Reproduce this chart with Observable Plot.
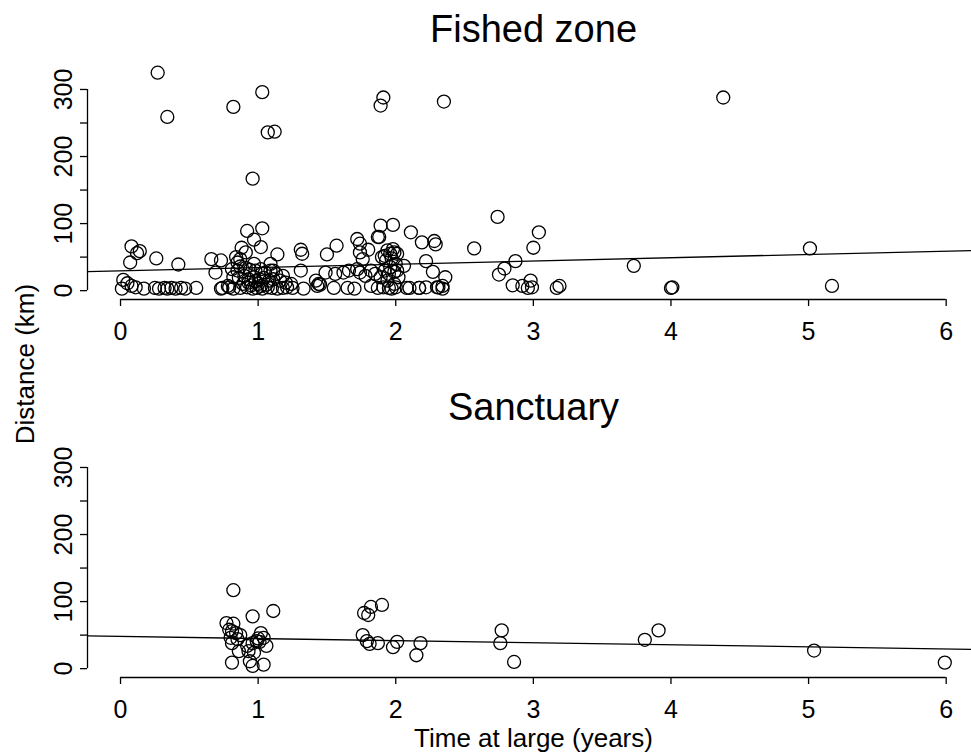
<!DOCTYPE html>
<html><head><meta charset="utf-8">
<script src="https://cdn.jsdelivr.net/npm/d3@7"></script>
<script src="https://cdn.jsdelivr.net/npm/@observablehq/plot@0.6"></script>
<style>
body{margin:0;background:#fff;}
#chart{position:relative;width:971px;height:755px;overflow:hidden;font-family:"Liberation Sans",Arial,sans-serif;background:#fff;}
#chart svg{display:block;}
#ylab{position:absolute;left:25px;top:364px;transform:translate(-50%,-50%) rotate(-90deg);font-size:26px;white-space:nowrap;color:#000;}
</style></head><body>
<div id="chart"><div id="ylab">Distance (km)</div></div>
<script>
// ---- data (years at large, distance km) ----
const fishedYears = [0.27,0.34,0.82,1.03,1.07,1.12,0.96,1.91,1.89,2.35,4.38,
 2.74,3.04,3.00,2.11,2.19,2.28,2.29,2.57,2.87,2.79,2.75,2.22,2.27,2.36,2.31,2.34,2.17,2.10,2.85,2.92,2.98,2.96,2.99,3.17,3.19,3.73,4.00,4.01,5.01,5.17,1.98,1.89,1.88,
 0.08,0.14,0.12,0.07,0.26,0.42,0.02,0.01,0.05,0.08,0.11,0.17,0.25,0.28,0.32,0.34,0.37,0.40,0.44,0.47,0.55,0.66,0.73,0.69,0.74,0.78,0.73,
 0.92,1.03,0.97,1.02,0.88,0.91,1.14,0.87,0.85,0.84,1.09,0.97,1.11,
 0.81,0.85,0.87,0.91,0.94,0.98,1.02,1.05,1.09,1.13,1.18,
 0.82,0.86,0.90,0.93,0.97,1.01,1.04,1.08,1.11,1.16,1.20,1.24,
 0.79,0.82,0.87,0.92,0.96,0.99,1.03,1.07,1.10,1.14,1.18,1.21,1.25,
 0.89,0.95,1.00,1.06,0.93,1.02,0.98,
 1.31,1.32,1.31,1.50,1.57,1.72,1.74,1.80,1.87,1.49,1.56,1.62,1.66,1.74,1.76,1.72,1.74,1.78,1.82,1.85,1.42,1.44,
 1.33,1.43,1.45,1.55,1.65,1.70,1.82,1.87,
 1.94,1.96,1.99,2.01,1.90,1.93,2.06,1.96,1.99,2.01,1.92,1.89,1.94,1.99,1.91,1.95,1.97,2.00,
 2.08,2.17,2.22,2.30,2.34,1.92,1.97,2.00,1.95,2.02,1.98];
const fishedKm = [325,259,274,296,236,237,167,288,276,282,288,
 110,87,64,87,72,74,69,63,44,33,24,44,28,20,5,7,4,4,8,7,15,4,5,4,7,37,4,5,63,7,98,97,80,
 66,59,56,42,48,39,16,3,11,7,5,3,4,3,4,3,4,3,4,3,4,47,45,27,4,7,3,
 89,93,76,65,64,57,54,47,42,50,40,40,30,
 32,30,36,34,31,30,32,27,30,25,22,
 20,19,22,17,20,17,19,15,17,15,12,10,
 5,3,4,5,3,4,3,5,4,3,4,5,4,
 10,8,10,9,12,7,14,
 61,55,30,54,67,77,70,61,80,27,25,27,30,57,47,32,27,22,30,25,15,10,
 3,7,9,4,4,3,7,4,
 60,55,57,55,50,45,37,35,28,30,30,20,15,10,5,4,3,5,
 4,4,5,5,3,52,48,40,25,20,62];
const sanctuaryYears = [0.82,0.96,1.11,0.77,0.82,0.79,0.81,0.84,0.80,0.85,0.87,0.81,0.86,0.92,0.96,0.99,1.02,1.04,1.06,0.93,0.97,0.94,0.81,0.96,1.04,1.00,1.01,
 1.90,1.82,1.77,1.80,1.76,1.79,1.81,1.87,2.01,1.98,2.18,2.15,2.77,2.76,2.86,3.81,3.91,5.04,5.99];
const sanctuaryKm = [117,78,86,68,67,58,56,53,46,44,50,38,26,34,38,41,53,46,34,26,24,11,9,4,6,45,40,
 95,92,83,80,50,41,37,38,40,32,38,20,57,38,10,43,57,27,9];
// fitted regression lines
const fishedFit = {intercept: 29.5, slope: 4.9};
const sanctuaryFit = {intercept: 48, slope: -3.1};
// axes
const xTicks = [0,1,2,3,4,5,6];
const yTicks = [0,50,100,150,200,250,300];
const yLabelTicks = [0,100,200,300];
const xDomain = [-0.24, 6.184];
const yDomain = [-13.2, 343.2];
const titles = ["Fished zone", "Sanctuary"];
const xTitle = "Time at large (years)";

const FONT = "Liberation Sans, Arial, Helvetica, sans-serif";

function panel({title, years, km, fit, height, marginBottom, xLabel}) {
  const pts = years.map((x, i) => ({x, y: km[i]}));
  const fitPts = xDomain.map(x => ({x, y: fit.intercept + fit.slope * x}));
  const marks = [
    Plot.ruleY([yDomain[0]], {x1: xTicks[0], x2: xTicks[xTicks.length-1], stroke: "black", strokeWidth: 1.3}),
    Plot.ruleX([xDomain[0]], {y1: yTicks[0], y2: yTicks[yTicks.length-1], stroke: "black", strokeWidth: 1.3}),
    Plot.axisX({ticks: xTicks, tickSize: 7, tickPadding: 16, fontSize: 25, label: null, strokeWidth: 1.3, tickFormat: d => String(d)}),
    Plot.axisY({ticks: yTicks, tickSize: 7, label: null, strokeWidth: 1.3, tickFormat: () => ""}),
    Plot.text(yLabelTicks, {y: d => d, text: d => String(d), frameAnchor: "left", dx: -24, rotate: -90, fontSize: 25, textAnchor: "middle", lineAnchor: "middle", fill: "black"}),
    Plot.line(fitPts, {x: "x", y: "y", stroke: "black", strokeWidth: 1.3}),
    Plot.dot(pts, {x: "x", y: "y", r: 6.5, stroke: "black", strokeWidth: 1.3, fill: "none"}),
    Plot.text([title], {text: d => d, frameAnchor: "top", dy: -31, dx: 4, fontSize: 38, lineAnchor: "middle", fill: "black"})
  ];
  if (xLabel) marks.push(Plot.text([xLabel], {text: d => d, frameAnchor: "bottom", dy: 61, dx: 4, fontSize: 26, lineAnchor: "middle", fill: "black"}));
  return Plot.plot({
    width: 971, height, marginLeft: 87, marginRight: 0, marginTop: 60, marginBottom,
    x: {domain: xDomain}, y: {domain: yDomain},
    style: {fontFamily: FONT, background: "white", color: "black", overflow: "visible"},
    marks
  });
}

const chart = document.getElementById("chart");
chart.appendChild(panel({title: titles[0], years: fishedYears, km: fishedKm, fit: fishedFit, height: 378, marginBottom: 79}));
chart.appendChild(panel({title: titles[1], years: sanctuaryYears, km: sanctuaryKm, fit: sanctuaryFit, height: 377, marginBottom: 78, xLabel: xTitle}));
</script>
</body></html>
